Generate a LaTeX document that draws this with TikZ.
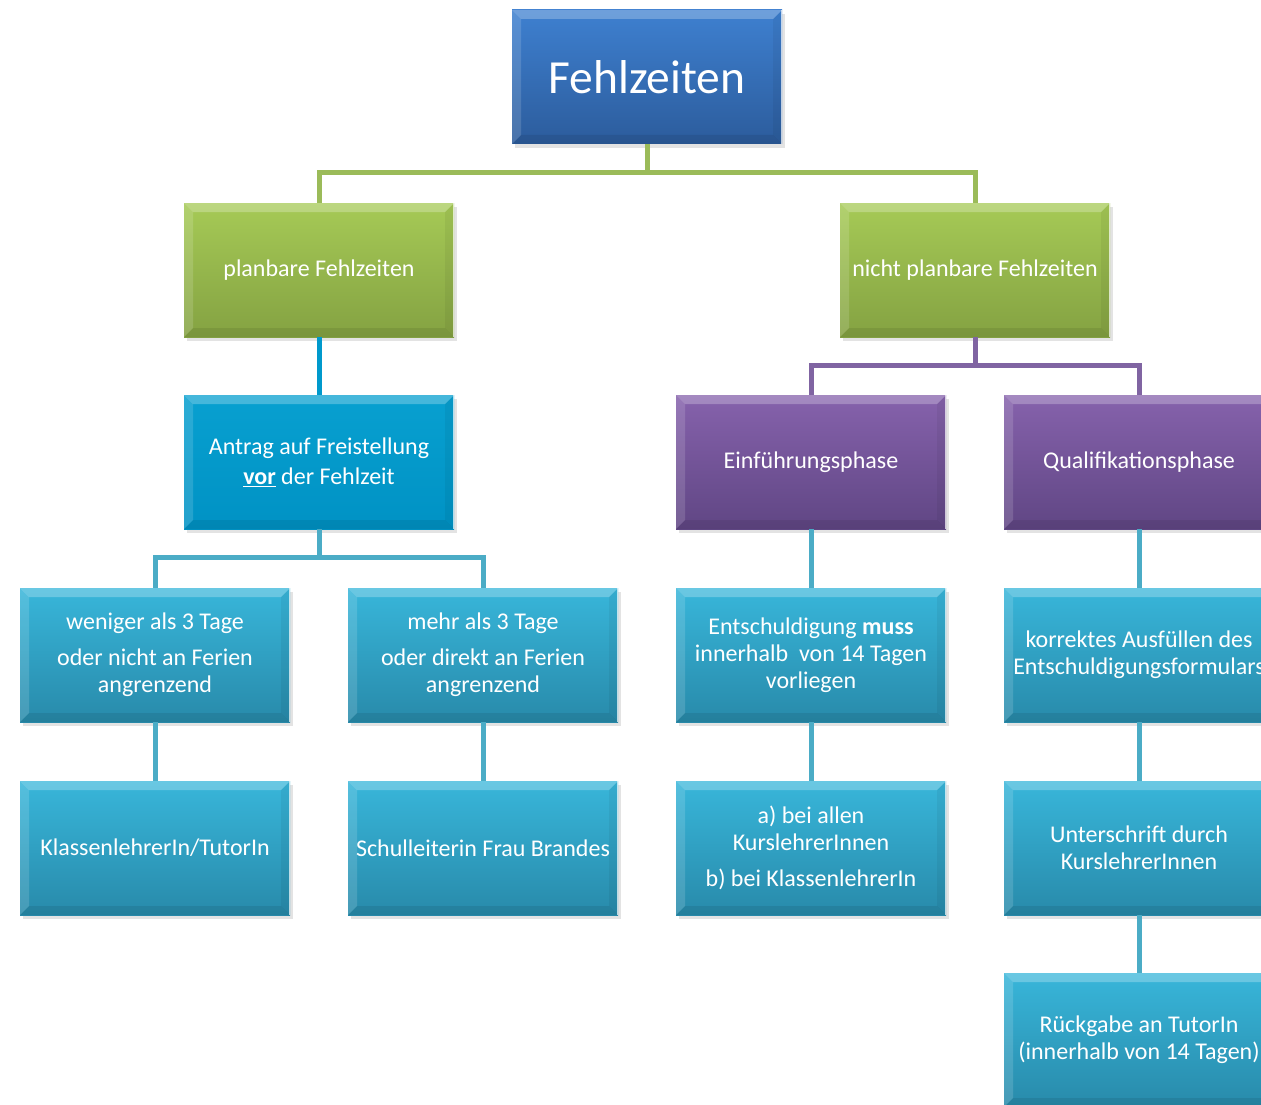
\documentclass[tikz,border=0pt]{standalone}
\usepackage{fontspec}
\setmainfont{Carlito}
\usetikzlibrary{positioning,calc,shadows}

\definecolor{fzgreen}{HTML}{9BBB59}
\definecolor{fzpurple}{HTML}{8064A2}
\definecolor{fzcyan}{HTML}{0099CC}
\definecolor{fzteal}{HTML}{4BACC6}

\tikzset{
  bevel/.style={path picture={
    \coordinate (bnw) at (path picture bounding box.north west);
    \coordinate (bse) at (path picture bounding box.south east);
    \coordinate (bne) at (bnw -| bse);
    \coordinate (bsw) at (bse -| bnw);
    \fill[white,opacity=.25] (bnw) -- (bne) -- ($(bne)+(-9pt,-9pt)$) -- ($(bnw)+(9pt,-9pt)$) -- cycle;
    \fill[white,opacity=.14] (bnw) -- ($(bnw)+(9pt,-9pt)$) -- ($(bsw)+(9pt,9pt)$) -- (bsw) -- cycle;
    \fill[black,opacity=.08] (bsw) -- ($(bsw)+(9pt,9pt)$) -- ($(bse)+(-9pt,9pt)$) -- (bse) -- cycle;
    \fill[black,opacity=.05] (bne) -- ($(bne)+(-9pt,-9pt)$) -- ($(bse)+(-9pt,9pt)$) -- (bse) -- cycle;
    \draw[white,opacity=.7,line width=1.5pt] (bne) -- (bse);
  }},
  box/.style={rectangle, minimum width=270pt, minimum height=134pt, inner sep=0pt,
    align=center, text=white, font=\fontsize{24}{27}\selectfont, bevel,
    drop shadow={shadow xshift=3pt, shadow yshift=-4pt, opacity=.22}},
  topbox/.style={box, top color={rgb,255:red,62;green,128;blue,208}, bottom color={rgb,255:red,44;green,92;blue,156},
    font=\fontsize{47.5}{54}\selectfont},
  greenbox/.style={box, top color={rgb,255:red,166;green,202;blue,86}, bottom color={rgb,255:red,132;green,162;blue,66}},
  purplebox/.style={box, top color={rgb,255:red,134;green,98;blue,172}, bottom color={rgb,255:red,96;green,70;blue,132}},
  cyanbox/.style={box, top color={rgb,255:red,8;green,160;blue,208}, bottom color={rgb,255:red,0;green,146;blue,196}},
  tealbox/.style={box, top color={rgb,255:red,56;green,182;blue,218}, bottom color={rgb,255:red,40;green,138;blue,170}},
  link/.style={line width=5pt}
}

\begin{document}
\begin{tikzpicture}[x=1pt,y=1pt]
\useasboundingbox (0,0) rectangle (1261,-1105);
\clip (0,0) rectangle (1261,-1105);

\node[topbox] (fz) at (647,-77) {Fehlzeiten};

\node[greenbox] (pf) at (319,-270) {planbare Fehlzeiten};
\node[greenbox] (npf) at (975,-270) {nicht planbare Fehlzeiten};

\node[cyanbox] (antrag) at (319,-462) {Antrag auf Freistellung\\[3pt]\underline{\textbf{vor}} der Fehlzeit};
\node[purplebox] (ef) at (811,-462) {Einführungsphase};
\node[purplebox] (qp) at (1139,-462) {Qualifikationsphase};

\node[tealbox] (wen) at (155,-655) {weniger als 3 Tage\\[9pt]oder nicht an Ferien\\angrenzend};
\node[tealbox] (mehr) at (483,-655) {mehr als 3 Tage\\[9pt]oder direkt an Ferien\\angrenzend};
\node[tealbox] (ent) at (811,-655) {Entschuldigung \textbf{muss}\\innerhalb\ \ von 14 Tagen\\vorliegen};
\node[tealbox] (korr) at (1139,-655) {korrektes Ausfüllen des\\Entschuldigungsformulars};

\node[tealbox] (klass) at (155,-848) {KlassenlehrerIn/TutorIn};
\node[tealbox] (sl) at (483,-848) {Schulleiterin Frau Brandes};
\node[tealbox] (kurs) at (811,-848) {a) bei allen\\KurslehrerInnen\\[9pt]b) bei KlassenlehrerIn};
\node[tealbox] (unter) at (1139,-848) {Unterschrift durch\\KurslehrerInnen};

\node[tealbox] (rueck) at (1139,-1040) {Rückgabe an TutorIn\\(innerhalb von 14 Tagen)};

\draw[link,fzgreen] (fz.south) -- ++(0,-28) -| (pf.north);
\draw[link,fzgreen] (fz.south) -- ++(0,-28) -| (npf.north);
\draw[link,fzcyan] (pf.south) -- (antrag.north);
\draw[link,fzpurple] (npf.south) -- ++(0,-28) -| (ef.north);
\draw[link,fzpurple] (npf.south) -- ++(0,-28) -| (qp.north);
\draw[link,fzteal] (antrag.south) -- ++(0,-28) -| (wen.north);
\draw[link,fzteal] (antrag.south) -- ++(0,-28) -| (mehr.north);
\draw[link,fzteal] (wen.south) -- (klass.north);
\draw[link,fzteal] (mehr.south) -- (sl.north);
\draw[link,fzteal] (ef.south) -- (ent.north);
\draw[link,fzteal] (ent.south) -- (kurs.north);
\draw[link,fzteal] (qp.south) -- (korr.north);
\draw[link,fzteal] (korr.south) -- (unter.north);
\draw[link,fzteal] (unter.south) -- (rueck.north);
\end{tikzpicture}
\end{document}
